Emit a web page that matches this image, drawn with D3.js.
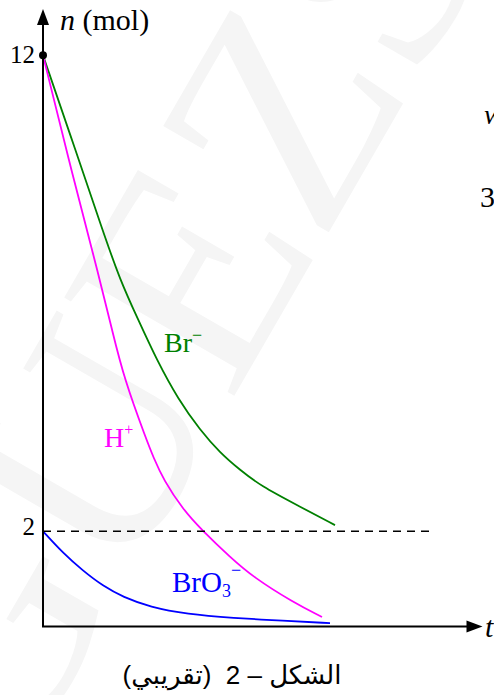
<!DOCTYPE html>
<html>
<head>
<meta charset="utf-8">
<script src="https://cdn.jsdelivr.net/npm/d3@7"></script>
<style>
  html, body { margin: 0; padding: 0; background: #fff; }
  svg { display: block; }
</style>
</head>
<body>
<svg id="chart" width="494" height="695"></svg>
<script>
// Amounts of each species (mol) over time (arbitrary time units)
const brTime   = [0, 10.83, 19.83, 25.67, 31.77, 37.9, 45.17, 52.33, 59, 65.67, 72.67, 84.67, 97.33];
const brMol    = [12, 10.01, 8.33, 7.28, 6.44, 5.60, 4.76, 4.13, 3.65, 3.29, 2.95, 2.55, 2.13];

const hTime    = [0, 10, 19, 23, 27.17, 34.5, 36.77, 40.17, 46.77, 52.9, 62.33, 70, 83.33, 93];
const hMol     = [12, 9.44, 7.28, 6.23, 5.18, 3.92, 3.56, 3.08, 2.45, 2.03, 1.46, 1.04, 0.51, 0.20];

const bro3Time = [0, 6.67, 13.33, 20, 26.67, 35.67, 48, 63.33, 80, 95.67];
const bro3Mol  = [2, 1.54, 1.17, 0.85, 0.62, 0.41, 0.26, 0.18, 0.12, 0.07];

const yTickValues = [12, 2];
const refLevel = 2;
const dashEnd = 129;     // time where the n = 2 guide ends
const axisEndT = 146.5;  // time where the t arrow tips

const svg = d3.select("#chart");
const serif = "Liberation Serif, DejaVu Serif, serif";

const x = d3.scaleLinear().domain([0, 100]).range([43, 343]);
const y = d3.scaleLinear().domain([0, 12]).range([626.5, 55.3]);

// faint background lettering
svg.append("text")
  .attr("transform", "translate(255,360) rotate(-60)")
  .attr("text-anchor", "middle")
  .attr("font-family", serif)
  .attr("font-size", 300)
  .attr("fill", "#f5f5f5")
  .text("GUEZS");

// curves
const series = [
  { t: brTime,   n: brMol,   color: "#008000" },
  { t: hTime,    n: hMol,    color: "#ff00ff" },
  { t: bro3Time, n: bro3Mol, color: "#0000ff" }
];
const line = d3.line()
  .x(d => x(d[0]))
  .y(d => y(d[1]))
  .curve(d3.curveBasis);

series.forEach(s => {
  svg.append("path")
    .datum(d3.zip(s.t, s.n))
    .attr("d", line)
    .attr("fill", "none")
    .attr("stroke", s.color)
    .attr("stroke-width", 1.8);
});

// dashed guide at n = 2
svg.append("line")
  .attr("x1", x(0)).attr("x2", x(dashEnd))
  .attr("y1", y(refLevel)).attr("y2", y(refLevel))
  .attr("stroke", "#000")
  .attr("stroke-width", 1.5)
  .attr("stroke-dasharray", "8,6");

// axes
svg.append("line")
  .attr("x1", x(0)).attr("x2", x(0))
  .attr("y1", y(0)).attr("y2", 22)
  .attr("stroke", "#000").attr("stroke-width", 2);
svg.append("path")
  .attr("d", `M${x(0)},9 L${x(0) - 6},25 L${x(0) + 6},25 Z`)
  .attr("fill", "#000");

svg.append("line")
  .attr("x1", x(0) - 1).attr("x2", x(axisEndT) - 12)
  .attr("y1", y(0)).attr("y2", y(0))
  .attr("stroke", "#000").attr("stroke-width", 2);
svg.append("path")
  .attr("d", `M${x(axisEndT)},${y(0)} L${x(axisEndT) - 16},${y(0) - 6} L${x(axisEndT) - 16},${y(0) + 6} Z`)
  .attr("fill", "#000");

// y tick labels
svg.selectAll("text.ytick")
  .data(yTickValues)
  .join("text")
  .attr("class", "ytick")
  .attr("x", x(0) - 8)
  .attr("y", d => y(d) + (d === 12 ? 8 : 4))
  .attr("text-anchor", "end")
  .attr("font-family", serif)
  .attr("font-size", 25)
  .text(d => d);

svg.append("circle")
  .attr("cx", x(0)).attr("cy", y(12)).attr("r", 4)
  .attr("fill", "#000");

// axis titles
const yTitle = svg.append("text")
  .attr("x", 60).attr("y", 30)
  .attr("font-family", serif)
  .attr("font-size", 30);
yTitle.append("tspan").attr("font-style", "italic").text("n");
yTitle.append("tspan").text(" (mol)");

svg.append("text")
  .attr("x", 485).attr("y", 637)
  .attr("font-family", serif)
  .attr("font-style", "italic")
  .attr("font-size", 30)
  .text("t");

// species labels
const brLabel = svg.append("text")
  .attr("x", 164).attr("y", 352)
  .attr("font-family", serif).attr("font-size", 28)
  .attr("fill", "#008000");
brLabel.append("tspan").text("Br");
brLabel.append("tspan").attr("dy", -11).attr("font-size", 18).text("\u2212");

const hLabel = svg.append("text")
  .attr("x", 104).attr("y", 447)
  .attr("font-family", serif).attr("font-size", 28)
  .attr("fill", "#ff00ff");
hLabel.append("tspan").text("H");
hLabel.append("tspan").attr("dy", -12).attr("font-size", 16).text("+");

const bro3Label = svg.append("text")
  .attr("x", 172).attr("y", 592)
  .attr("font-family", serif).attr("font-size", 29)
  .attr("fill", "#0000ff");
bro3Label.append("tspan").text("BrO");
bro3Label.append("tspan").attr("dy", 5).attr("font-size", 18).text("3");
bro3Label.append("tspan").attr("dy", -21).attr("font-size", 18).text("\u2212");

// caption
svg.append("text")
  .attr("x", 232).attr("y", 684)
  .attr("text-anchor", "middle")
  .attr("direction", "rtl")
  .attr("font-family", "Liberation Sans, DejaVu Sans, sans-serif")
  .attr("font-size", 26)
  .text("الشكل \u2013 2\u00a0\u00a0(تقريبي)");

// edge glyphs from neighbouring text
svg.append("text")
  .attr("x", 484).attr("y", 124)
  .attr("font-family", serif).attr("font-style", "italic").attr("font-size", 28)
  .text("w");
svg.append("text")
  .attr("x", 480).attr("y", 207)
  .attr("font-family", serif).attr("font-size", 30)
  .text("3");
</script>
</body>
</html>
